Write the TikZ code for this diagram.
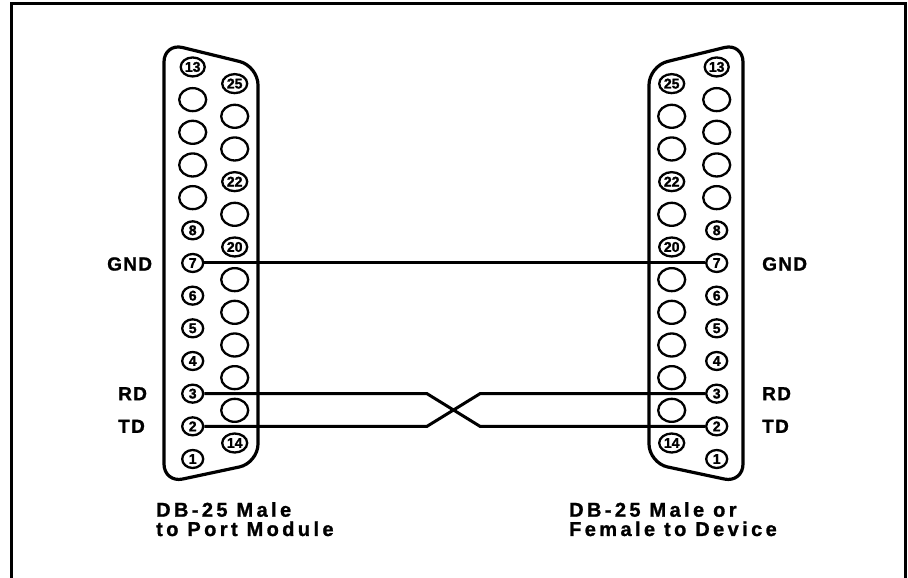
\documentclass[tikz,border=0pt]{standalone}
\usepackage{fontspec}
\setmainfont{Liberation Sans}
\usetikzlibrary{shapes.geometric}
\begin{document}
\begin{tikzpicture}[x=1pt,y=-1pt,
  shell/.style={line width=3.2pt, rounded corners=19pt},
  pin/.style={ellipse, draw, line width=2.3pt, inner sep=0pt, font=\bfseries\fontsize{14}{14}\selectfont\addfontfeature{FakeBold=1.5}},
  wire/.style={line width=3pt},
  sig/.style={font=\bfseries\fontsize{19}{19}\selectfont\addfontfeature{LetterSpace=7,FakeBold=1.2}, inner sep=0pt},
  capt/.style={font=\bfseries\fontsize{20}{19.3}\selectfont\addfontfeature{LetterSpace=17,FakeBold=1.2}, inner sep=0pt, align=left, anchor=north west},
  frame/.style={line width=3pt}
]
\useasboundingbox (0,0) rectangle (908,578);
\draw[frame] (11,578) -- (11,4) -- (905,4) -- (905,578);
% shells
\draw[shell] (164,250) -- (164,43) -- (258,66) -- (258,463) -- (164,483) -- cycle;
\draw[shell] (743,250) -- (743,43) -- (649,66) -- (649,463) -- (743,483) -- cycle;
% pins 1..13
\foreach \k in {1,...,13}{
  \pgfmathsetmacro{\yy}{459-(\k-1)*32.67}
  \ifnum\k<9 \def\mw{21}\def\mh{18}\def\tx{\k}\else
    \ifnum\k=13 \def\mw{24}\def\mh{19}\def\tx{\k}\else
      \def\mw{27}\def\mh{23}\def\tx{}\fi\fi
  \node[pin, minimum width=\mw pt, minimum height=\mh pt] (L\k) at (192.7,\yy) {\tx};
  \node[pin, minimum width=\mw pt, minimum height=\mh pt] (R\k) at (716.7,\yy) {\tx};
}
% pins 14..25
\foreach \m in {14,...,25}{
  \pgfmathsetmacro{\yy}{443-(\m-14)*32.67}
  \pgfmathtruncatemacro{\isnum}{(\m==14)||(\m==20)||(\m==22)||(\m==25)}
  \ifnum\isnum=1 \def\mw{25}\def\mh{19}\def\tx{\m}\else
    \def\mw{27}\def\mh{23}\def\tx{}\fi
  \node[pin, minimum width=\mw pt, minimum height=\mh pt] (L\m) at (234.7,\yy) {\tx};
  \node[pin, minimum width=\mw pt, minimum height=\mh pt] (R\m) at (671.7,\yy) {\tx};
}
% wires
\draw[wire] (L7.east) -- (R7.west);
\draw[wire] (L3.east) -- (427,0 |- L3.east) -- (480,0 |- R2.west) -- (R2.west);
\draw[wire] (L2.east) -- (427,0 |- L2.east) -- (480,0 |- R3.west) -- (R3.west);
% signal labels
\node[sig, anchor=west] (gndL) at (107,264) {GND};
\node[sig, anchor=west] (rdL) at (118,393.7) {RD};
\node[sig, anchor=west] (tdL) at (118,426.3) {TD};
\node[sig, anchor=west] (gndR) at (762,264) {GND};
\node[sig, anchor=west] (rdR) at (762,393.7) {RD};
\node[sig, anchor=west] (tdR) at (762,426.3) {TD};
% captions
\node[capt] (capL) at (156,502) {DB-25 Male\\to Port Module};
\node[capt] (capR) at (569,502) {DB-25 Male or\\Female to Device};
\end{tikzpicture}
\end{document}
